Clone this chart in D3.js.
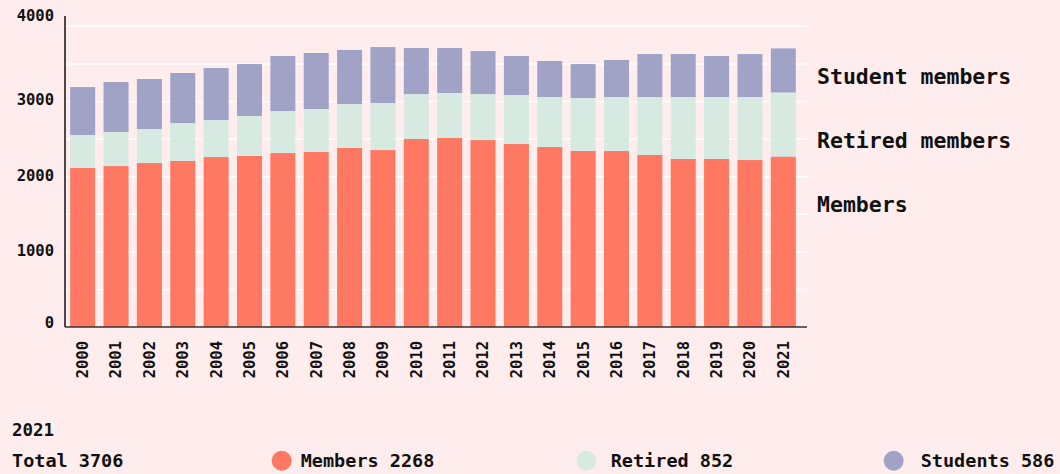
<!DOCTYPE html>
<html>
<head>
<meta charset="utf-8">
<script src="https://cdn.jsdelivr.net/npm/d3@7"></script>
<style>
  body { margin: 0; background: #ffeded; }
  svg { display: block; font-family: "DejaVu Sans Mono", "Liberation Mono", monospace; font-weight: bold; }
</style>
</head>
<body>
<svg id="chart" width="1060" height="474"></svg>
<script>
// membership by year
var years    = ["2000","2001","2002","2003","2004","2005","2006","2007","2008","2009","2010",
                "2011","2012","2013","2014","2015","2016","2017","2018","2019","2020","2021"];
var members  = [2115, 2141, 2181, 2208, 2261, 2275, 2314, 2328, 2381, 2354, 2501,
                2514, 2487, 2434, 2394, 2341, 2341, 2288, 2235, 2235, 2221, 2268];
var retired  = [ 439,  453,  453,  505,  492,  532,  559,  572,  585,  626,  598,
                 599,  612,  652,  665,  705,  718,  771,  824,  824,  838,  852];
var students = [ 638,  665,  665,  666,  692,  691,  732,  745,  719,  744,  612,
                 598,  572,  519,  479,  452,  493,  572,  572,  546,  572,  586];

var keys = ["members", "retired", "students"];
var sideLabels = ["Members", "Retired members", "Student members"];
var legendLabels = ["Members", "Retired", "Students"];
var colors = ["#ff7862", "#d6eae2", "#a1a3c6"];
var yTicks = [0, 1000, 2000, 3000, 4000];
var gridTicks = [500, 1000, 1500, 2000, 2500, 3000, 3500, 4000];

var rows = years.map(function(y, i) {
  return { year: y, members: members[i], retired: retired[i], students: students[i] };
});

var svg = d3.select("#chart");
var left = 65, right = 807, bottom = 327, axisTop = 16;

var x = d3.scaleBand().domain(years).range([66, 800]).paddingInner(0.25).paddingOuter(0.125);
var y = d3.scaleLinear().domain([0, 4000]).range([bottom, 26.3]);
var color = d3.scaleOrdinal().domain(keys).range(colors);

// gridlines
svg.append("g").selectAll("line").data(gridTicks).join("line")
  .attr("x1", left).attr("x2", right)
  .attr("y1", function(d) { return y(d); }).attr("y2", function(d) { return y(d); })
  .attr("stroke", "#ffffff").attr("stroke-width", 1.5);

// stacked bars
var stacked = d3.stack().keys(keys)(rows);
svg.append("g").selectAll("g").data(stacked).join("g")
  .attr("fill", function(d) { return color(d.key); })
  .selectAll("rect").data(function(d) { return d; }).join("rect")
  .attr("x", function(d) { return x(d.data.year); })
  .attr("width", x.bandwidth())
  .attr("y", function(d) { return y(d[1]); })
  .attr("height", function(d) { return y(d[0]) - y(d[1]); });

// axes lines
svg.append("line").attr("x1", left).attr("x2", left).attr("y1", axisTop).attr("y2", bottom)
  .attr("stroke", "#111").attr("stroke-width", 1.5);
svg.append("line").attr("x1", left).attr("x2", right).attr("y1", bottom).attr("y2", bottom)
  .attr("stroke", "#333").attr("stroke-width", 1.5);

// y tick labels
svg.append("g").selectAll("text").data(yTicks).join("text")
  .attr("x", 54)
  .attr("y", function(d, i) {
    if (i == yTicks.length - 1) return axisTop;
    if (i == 0) return bottom + 1;
    return y(d) - 1.5;
  })
  .attr("dy", function(d, i) { return i == 0 ? "0" : "0.35em"; })
  .attr("text-anchor", "end")
  .attr("font-size", "15.5px")
  .attr("fill", "#111")
  .text(function(d) { return d; });

// x tick labels, rotated
svg.append("g").selectAll("text").data(years).join("text")
  .attr("transform", function(d) {
    return "translate(" + (x(d) + x.bandwidth() / 2) + ",341) rotate(-90)";
  })
  .attr("dy", "0.35em")
  .attr("text-anchor", "end")
  .attr("font-size", "15.5px")
  .attr("fill", "#111")
  .text(function(d) { return d; });

// series labels on the right
var sideY = [204, 140, 76];
svg.append("g").selectAll("text").data(sideLabels).join("text")
  .attr("x", 817)
  .attr("y", function(d, i) { return sideY[i]; })
  .attr("dy", "0.35em")
  .attr("font-size", "21.5px")
  .attr("fill", "#111")
  .text(function(d) { return d; });

// bottom legend for the last year
var last = rows[rows.length - 1];
var total = last.members + last.retired + last.students;
svg.append("text").attr("x", 12).attr("y", 430).attr("dy", "0.35em")
  .attr("font-size", "17.5px").attr("fill", "#111").text(last.year);

var legendRow = svg.append("g");
legendRow.append("text").attr("x", 12).attr("y", 461).attr("dy", "0.35em")
  .attr("font-size", "18.5px").attr("fill", "#111").text("Total " + total);

var dotX = [281.7, 586.3, 893.7];
var labelX = [300.7, 610.7, 920.7];
keys.forEach(function(k, i) {
  legendRow.append("circle").attr("cx", dotX[i]).attr("cy", 460.7).attr("r", 10).attr("fill", colors[i]);
  legendRow.append("text").attr("x", labelX[i]).attr("y", 461).attr("dy", "0.35em")
    .attr("font-size", "18.5px").attr("fill", "#111")
    .text(legendLabels[i] + " " + last[k]);
});
</script>
</body>
</html>
